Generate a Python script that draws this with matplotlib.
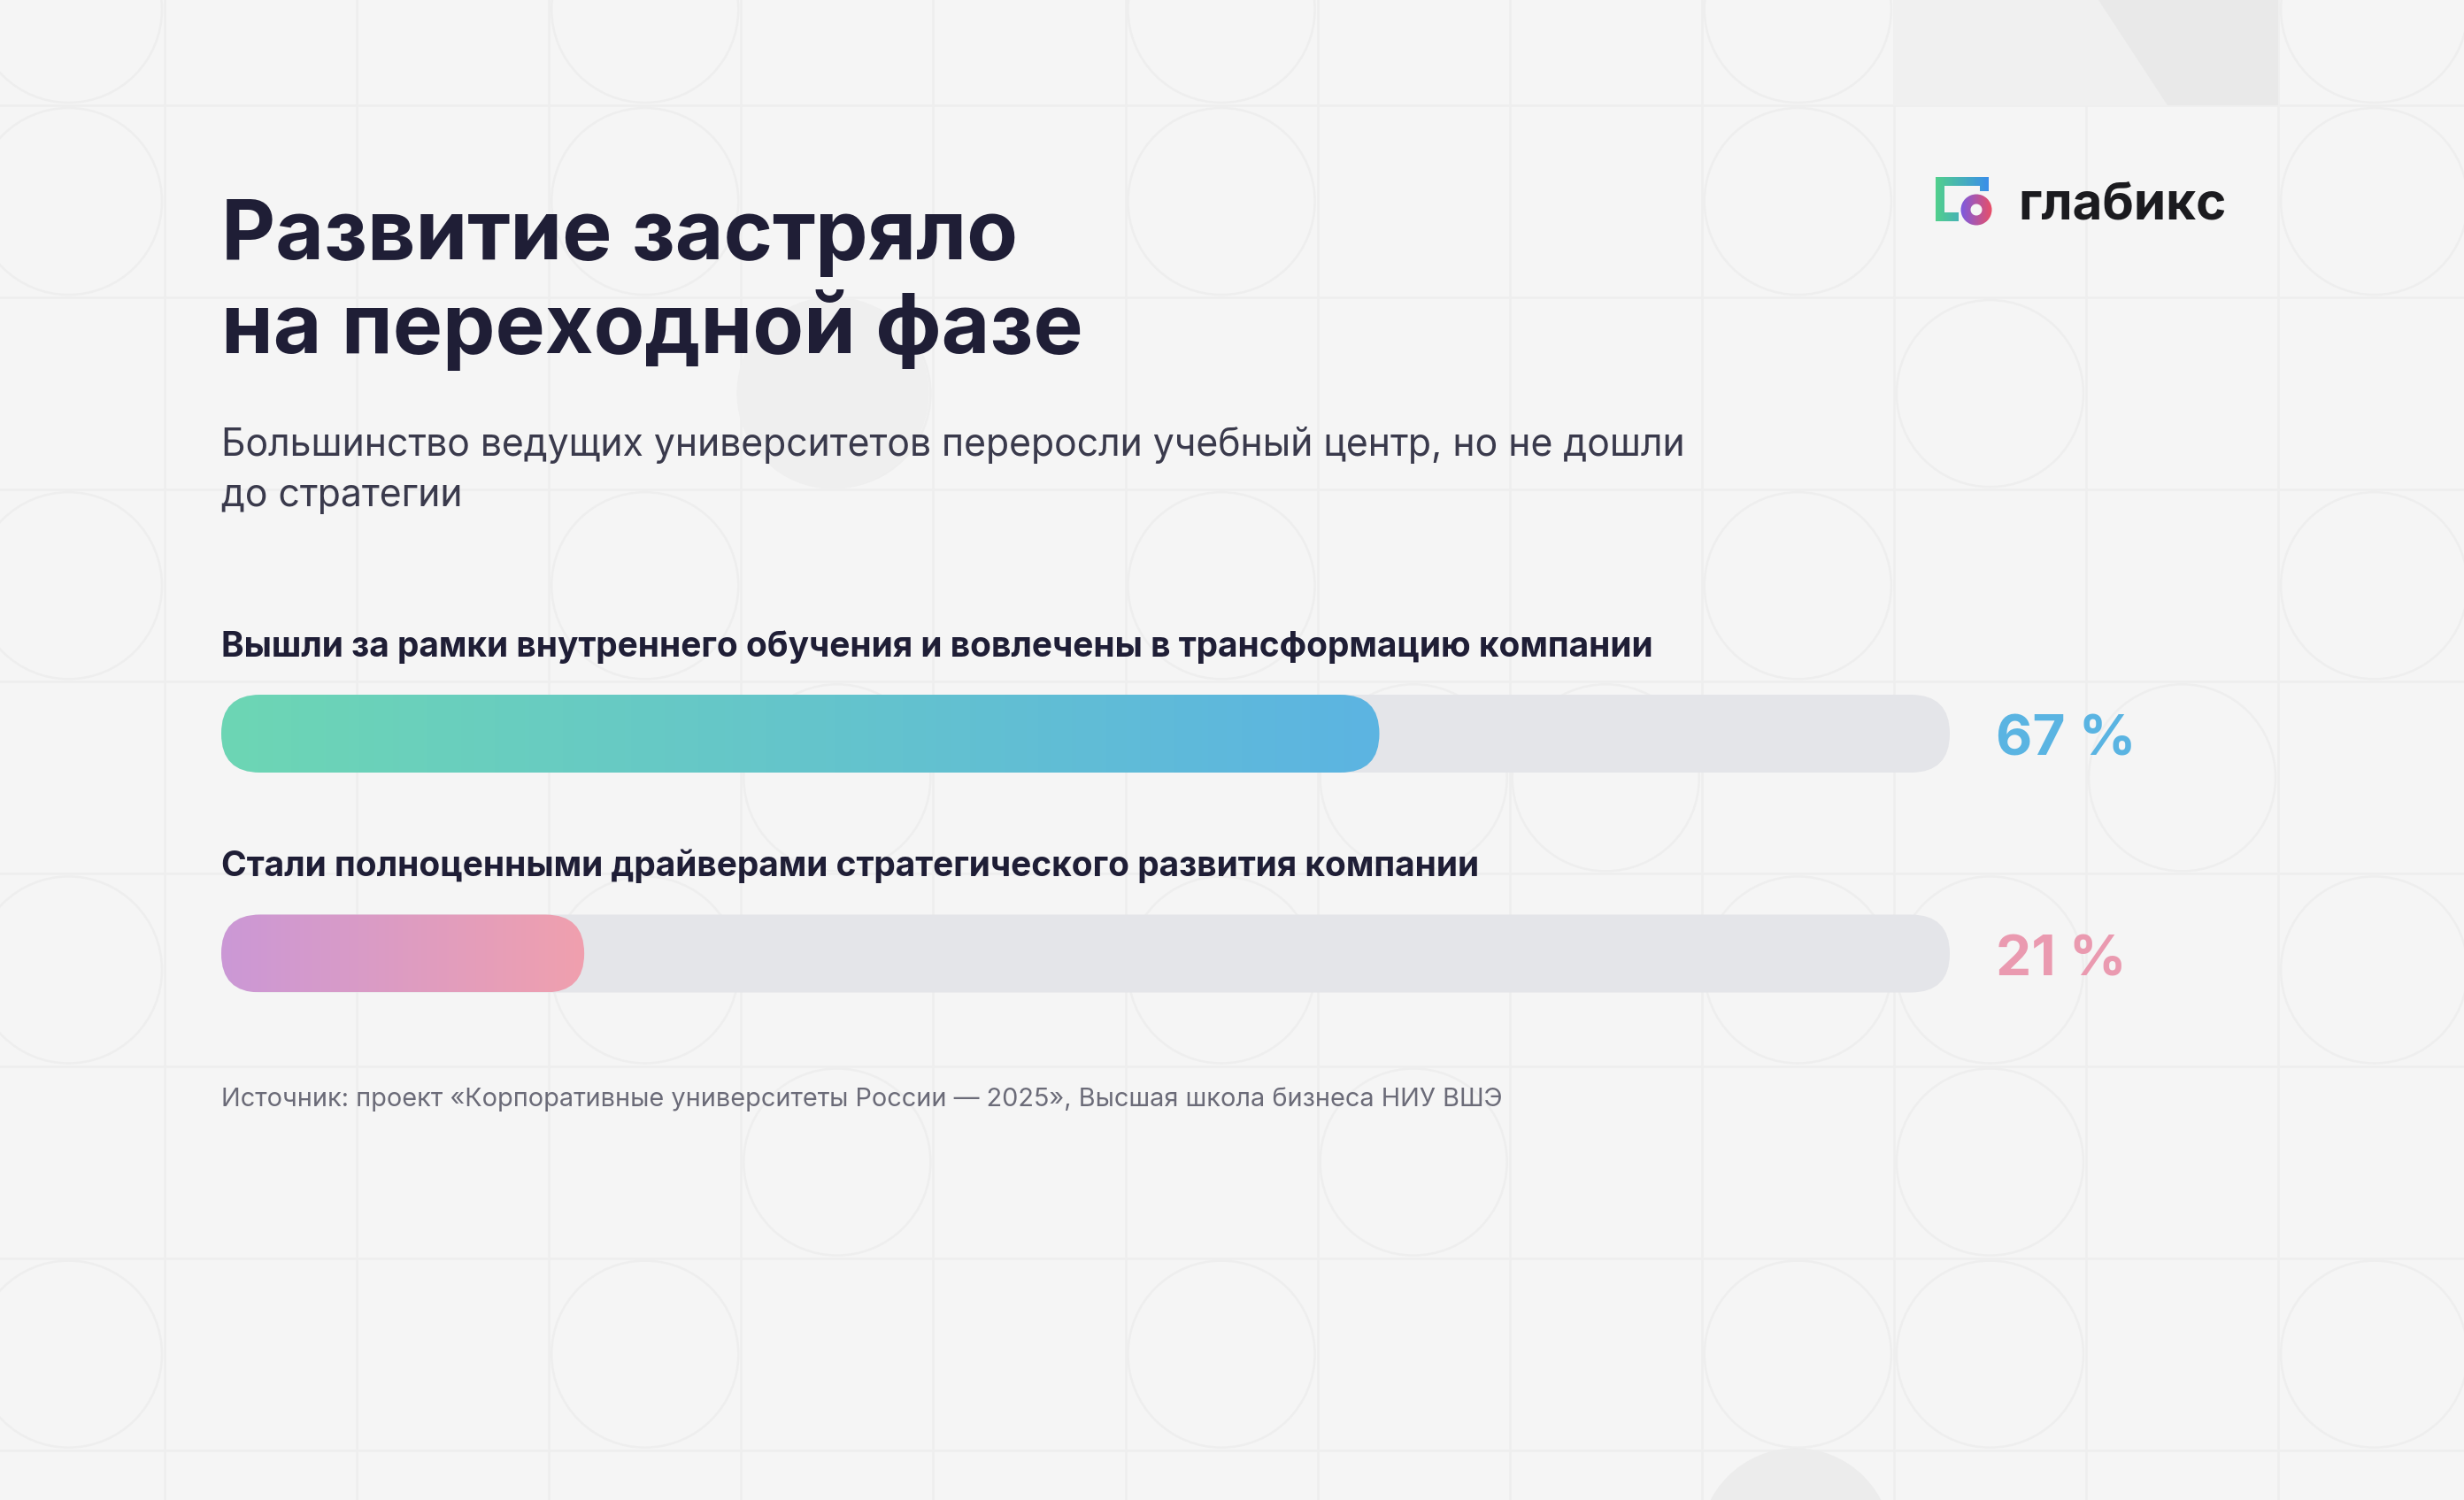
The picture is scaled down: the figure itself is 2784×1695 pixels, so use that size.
import numpy as np
import matplotlib.pyplot as plt
from matplotlib.patches import FancyBboxPatch, Circle, Wedge, PathPatch, Polygon, Rectangle
from matplotlib.path import Path
from matplotlib.colors import to_rgb

plt.rcParams['font.family'] = ['Inter', 'DejaVu Sans']

# --- data ---
title = ['Развитие застряло', 'на переходной фазе']
subtitle = ['Большинство ведущих университетов переросли учебный центр, но не дошли',
            'до стратегии']
labels = ['Вышли за рамки внутреннего обучения и вовлечены в трансформацию компании',
          'Стали полноценными драйверами стратегического развития компании']
values = [67, 21]
grad_colors = [('#6dd6b4', '#5cb4e2'), ('#cb98d6', '#f0a0ae')]
value_colors = ['#5ab4e2', '#ea9ab0']
source = 'Источник: проект «Корпоративные университеты России — 2025», Высшая школа бизнеса НИУ ВШЭ'
brand = 'глабикс'

W, H = 2784, 1695
BG = '#f5f5f5'
INK = '#1f1e36'
TRACK = '#e4e5e9'


def gradient(c0, c1, n=256):
    a, b = np.array(to_rgb(c0)), np.array(to_rgb(c1))
    t = np.linspace(0, 1, n)[:, None]
    return (a + (b - a) * t)[None, :, :]


fig = plt.figure(figsize=(W / 100, H / 100), dpi=100, facecolor=BG)

# background in pixel coords
bg = fig.add_axes([0, 0, 1, 1])
bg.set_xlim(0, W)
bg.set_ylim(H, 0)
bg.axis('off')
bg.set_facecolor(BG)

tile = 217.1
for k in range(-1, 14):
    bg.axvline(186 + k * tile, color='#eeeeee', lw=1.8, zorder=0)
for k in range(-1, 9):
    bg.axhline(119 + k * tile, color='#eeeeee', lw=1.8, zorder=0)

rings = {0: [0, 3, 6, 9, 12], 1: [0, 3, 6, 9, 12], 2: [4, 10],
         3: [0, 3, 6, 9, 12], 4: [4, 7, 8, 11], 5: [0, 3, 6, 9, 10, 12],
         6: [4, 7, 10], 7: [0, 3, 6, 9, 10, 12]}
for r, cols in rings.items():
    for c in cols:
        cx = 186 - tile / 2 + c * tile
        cy = 119 - tile / 2 + r * tile
        bg.add_patch(Circle((cx, cy), tile / 2 - 3, fc='none', ec='#eeeeee', lw=1.8, zorder=0))

bg.add_patch(Circle((941, 444), tile / 2, fc='#efefef', ec='none', zorder=0))
bg.add_patch(Circle((2029, 1745), tile / 2, fc='#ececec', ec='none', zorder=0))
bg.add_patch(Rectangle((2139, 0), 435, 119, fc='#f0f0f0', ec='none', zorder=0))
bg.add_patch(Polygon([(2371, 0), (2574, 0), (2574, 119), (2449, 119)],
                     closed=True, fc='#e9e9e9', ec='none', zorder=0))

# titles
bg.text(250, 293, title[0], fontsize=68, fontweight='bold', color=INK, va='baseline')
bg.text(250, 399, title[1], fontsize=68, fontweight='bold', color=INK, va='baseline')
bg.text(250, 515, subtitle[0], fontsize=30.8, color='#3a3a4c', va='baseline')
bg.text(250, 572, subtitle[1], fontsize=30.8, color='#3a3a4c', va='baseline')
bg.text(250, 1250, source, fontsize=20.8, color='#6b6b78', va='baseline')

# logo
rects = [(2187, 200, 10, 50), (2187, 200, 60, 10), (2237, 200, 10, 16), (2187, 240, 26, 10)]
verts, codes = [], []
for x, y, w, h in rects:
    verts += [(x, y), (x + w, y), (x + w, y + h), (x, y + h), (x, y)]
    codes += [Path.MOVETO, Path.LINETO, Path.LINETO, Path.LINETO, Path.CLOSEPOLY]
sq_clip = PathPatch(Path(verts, codes), transform=bg.transData, fc='none', ec='none')
bg.add_patch(sq_clip)
im = bg.imshow(gradient('#52d08c', '#3a8eea'), extent=[2187, 2247, 250, 200],
               aspect='auto', interpolation='bicubic', zorder=3)
im.set_clip_path(sq_clip)
ring = Wedge((2233, 237), 17.5, 0, 360, width=11, transform=bg.transData, fc='none', ec='none')
bg.add_patch(ring)
im2 = bg.imshow(gradient('#7a5ce2', '#ea4f66'), extent=[2215, 2251, 255, 219],
                aspect='auto', interpolation='bicubic', zorder=4)
im2.set_clip_path(ring)
bg.text(2280, 247, brand, fontsize=42, fontweight='bold', color='#1b1b1f', va='baseline')
bg.set_xlim(0, W)
bg.set_ylim(H, 0)

# bars
x0, x1 = 250, 2203
top, bottom = 785, 1122
ax = fig.add_axes([x0 / W, 1 - bottom / H, (x1 - x0) / W, (bottom - top) / H])
ax.patch.set_alpha(0)
ppu = (x1 - x0) / 100
bar_h = 88 / ppu
centers = [bar_h / 2, bar_h / 2 + 248.5 / ppu]

for i, v in enumerate(values):
    c = centers[i]
    ax.add_patch(FancyBboxPatch((0, c - bar_h / 2), 100, bar_h,
                                boxstyle=f'round,pad=0,rounding_size={bar_h / 2}',
                                fc=TRACK, ec='none', zorder=1))
    clip = FancyBboxPatch((0, c - bar_h / 2), v, bar_h,
                          boxstyle=f'round,pad=0,rounding_size={bar_h / 2}',
                          fc='none', ec='none', zorder=2)
    ax.add_patch(clip)
    g = ax.imshow(gradient(*grad_colors[i]), extent=[0, v, c + bar_h / 2, c - bar_h / 2],
                  aspect='auto', interpolation='bicubic', zorder=2)
    g.set_clip_path(clip)
    ax.text(0, c - 87 / ppu, labels[i], fontsize=28, fontweight='bold', color=INK,
            va='baseline')
    ax.text(100 + 52 / ppu, c + 25 / ppu, f'{v} %', fontsize=46, fontweight='bold',
            color=value_colors[i], va='baseline')

ax.set_xlim(0, 100)
ax.set_ylim((bottom - top) / ppu, 0)
ax.axis('off')

fig.savefig('out.png', dpi=100, facecolor=BG)
